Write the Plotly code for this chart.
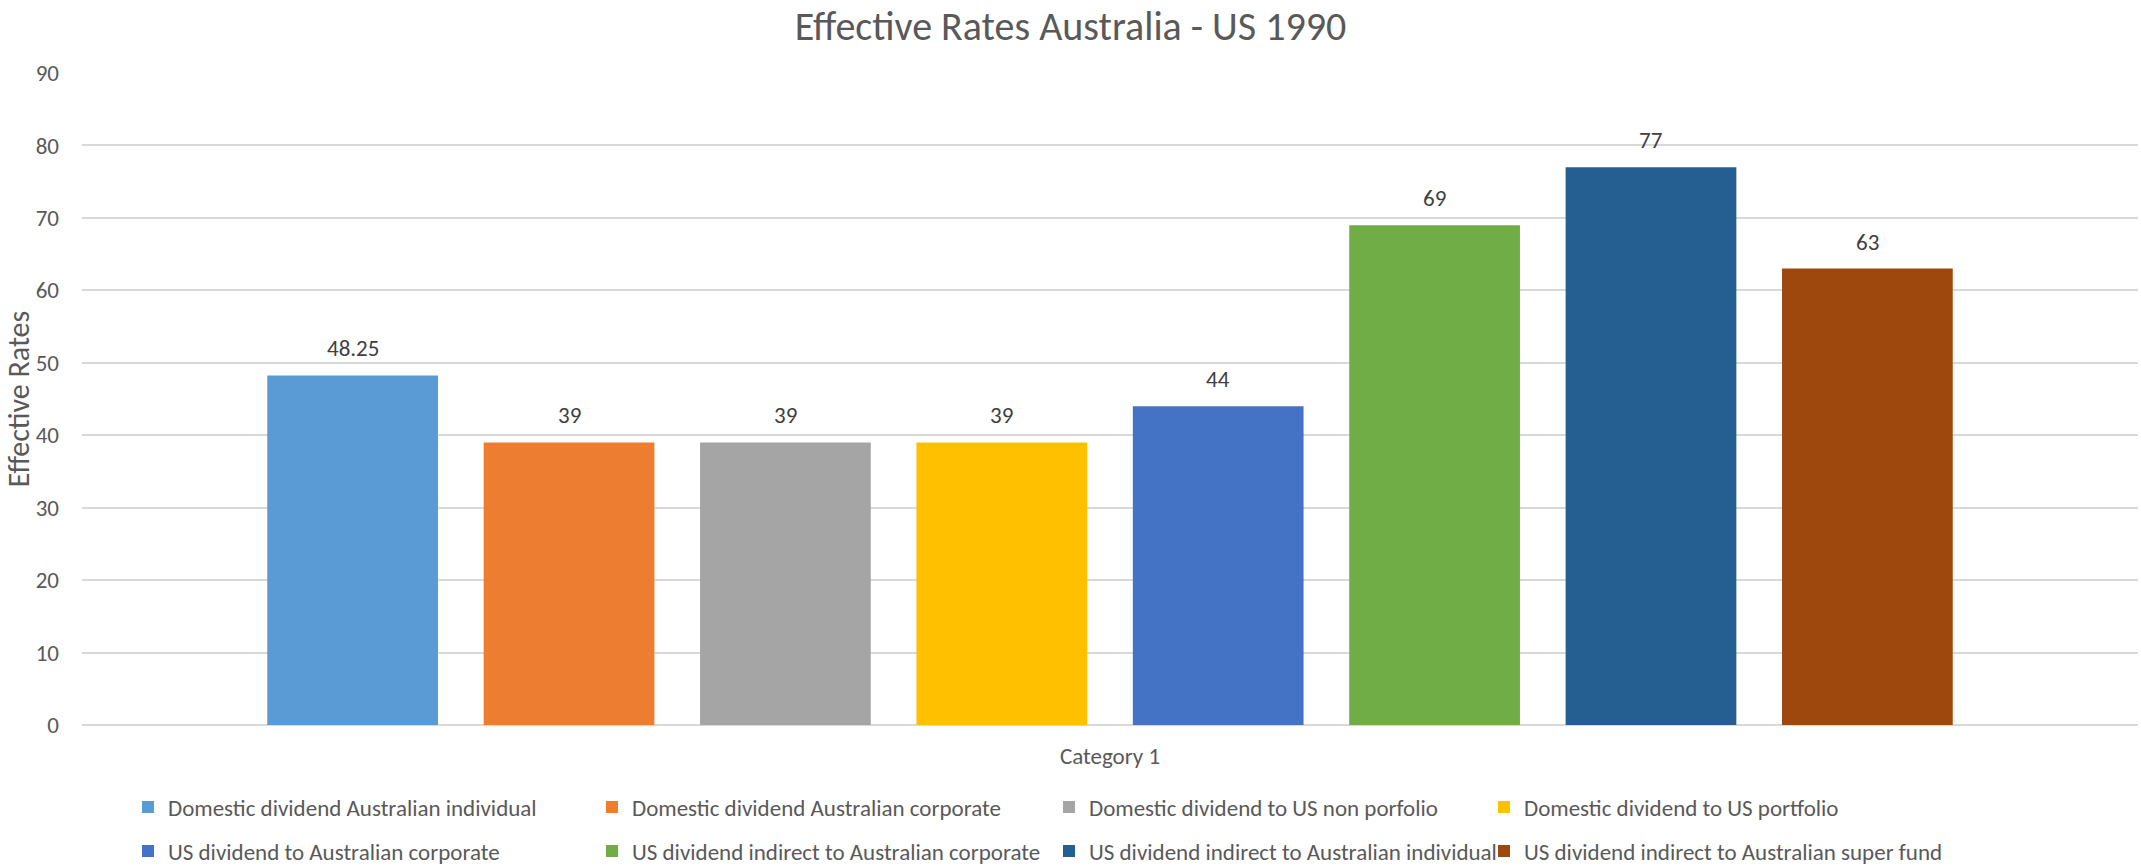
import plotly.graph_objects as go

# Chart data
category = ["Category 1"]
series_names = [
    "Domestic dividend Australian individual",
    "Domestic dividend Australian corporate",
    "Domestic dividend to US non porfolio",
    "Domestic dividend to US portfolio",
    "US dividend to Australian corporate",
    "US dividend indirect to Australian corporate",
    "US dividend indirect to Australian individual",
    "US dividend indirect to Australian super fund",
]
series_values = [48.25, 39, 39, 39, 44, 69, 77, 63]
series_colors = [
    "#5B9BD5", "#ED7D31", "#A5A5A5", "#FFC000",
    "#4472C4", "#70AD47", "#255E91", "#9E480E",
]
y_ticks = [0, 10, 20, 30, 40, 50, 60, 70, 80, 90]

FONT = "Carlito, Calibri, Lato, sans-serif"
TEXT = "#595959"
W, H = 2141, 866
M_L, M_R, M_T, M_B = 82, 3, 73, 141
PLOT_W = W - M_L - M_R
PLOT_H = H - M_T - M_B
BARGAP = 0.158
BARGROUPGAP = 0.211

# Legend grid: 4 columns x 2 rows below the plot (pixel positions of each cell)
legend_cols_px = [128, 592, 1049, 1484]
legend_rows_px = [807, 851]

n = len(series_values)
slot = (1 - BARGAP) / n  # width of one bar slot in category units

fig = go.Figure()
layout_legends = {}
annotations = []
for i, (name, val, col) in enumerate(zip(series_names, series_values, series_colors)):
    key = "legend" if i == 0 else f"legend{i + 1}"
    fig.add_trace(go.Bar(
        x=category,
        y=[val],
        name=name,
        marker=dict(color=col, line=dict(width=0)),
        cliponaxis=False,
        legend=key,
    ))
    # value label above the centre of this bar within the group
    annotations.append(dict(
        x=-(1 - BARGAP) / 2 + slot * (i + 0.5),
        y=val,
        xref="x", yref="y",
        text=f"{val:g}",
        showarrow=False,
        yanchor="bottom",
        yshift=11,
        font=dict(family=FONT, size=23, color="#404040"),
    ))
    cx = legend_cols_px[i % 4]
    cy = legend_rows_px[i // 4]
    layout_legends[key] = dict(
        orientation="h",
        x=(cx - M_L) / PLOT_W, xanchor="left",
        y=-(cy - (H - M_B)) / PLOT_H, yanchor="middle",
        font=dict(family=FONT, size=23, color=TEXT),
        itemwidth=30,
        bgcolor="rgba(0,0,0,0)",
    )

fig.update_layout(
    width=W,
    height=H,
    showlegend=True,
    margin=dict(l=M_L, r=M_R, t=M_T, b=M_B, autoexpand=False),
    paper_bgcolor="white",
    plot_bgcolor="white",
    barmode="group",
    bargap=BARGAP,
    bargroupgap=BARGROUPGAP,
    font=dict(family=FONT, color=TEXT, size=23),
    title=dict(
        text="Effective Rates Australia - US 1990",
        x=0.5, xanchor="center",
        y=1 - 26 / H, yanchor="middle",
        font=dict(family=FONT, size=40, color=TEXT),
    ),
    xaxis=dict(
        showgrid=False,
        showline=False,
        ticks="",
        tickfont=dict(family=FONT, size=23, color=TEXT),
        ticklabelstandoff=15,
    ),
    yaxis=dict(
        range=[0, 90],
        tickvals=y_ticks,
        showgrid=True,
        gridcolor="#D9D9D9",
        gridwidth=1.5,
        zeroline=True,
        zerolinecolor="#D9D9D9",
        zerolinewidth=1.5,
        ticks="",
        ticklabelstandoff=22,
        tickfont=dict(family=FONT, size=23, color=TEXT),
        title=dict(text="Effective Rates", font=dict(family=FONT, size=30, color=TEXT), standoff=9),
    ),
    annotations=annotations,
    **layout_legends,
)

fig.write_html("out.html")
